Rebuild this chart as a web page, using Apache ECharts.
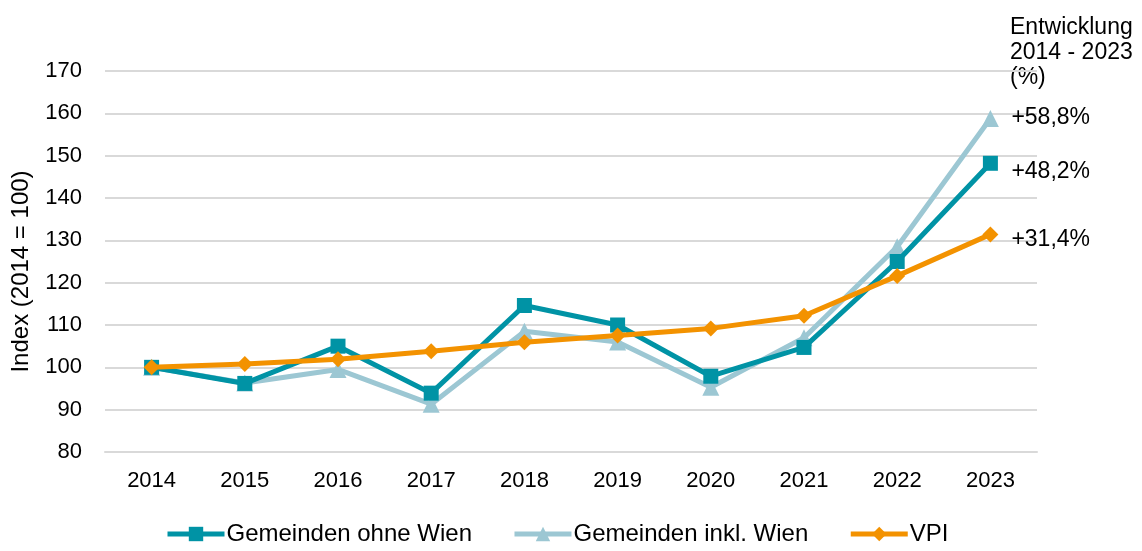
<!DOCTYPE html>
<html>
<head>
<meta charset="utf-8">
<script src="https://cdn.jsdelivr.net/npm/echarts@6/dist/echarts.min.js"></script>
<style>
  html, body { margin: 0; padding: 0; background: #fff; }
  #chart { width: 1142px; height: 551px; }
</style>
</head>
<body>
<div id="chart"></div>
<script>
var years = ['2014', '2015', '2016', '2017', '2018', '2019', '2020', '2021', '2022', '2023']
var ohneWien = [100, 96.2, 105, 93.9, 114.6, 110, 97.9, 104.7, 125, 148.2]
var inklWien = [100, 96.3, 99.5, 91.3, 108.5, 106, 95.3, 107, 128.5, 158.8]
var vpi = [100, 100.8, 101.9, 103.8, 105.9, 107.5, 109.2, 112.2, 121.6, 131.4]

var fontFam = '"Liberation Sans", Arial, sans-serif'

// Beschriftung am Linienende: Veränderung ggü. 2014
function endLbl (offsetY) {
  return {
    show: true,
    distance: 21,
    offset: [0, offsetY],
    fontSize: 23,
    color: '#000',
    fontFamily: fontFam,
    formatter: function (p) {
      var d = p.value - 100
      return (d >= 0 ? '+' : '') + d.toFixed(1).replace('.', ',') + '%'
    }
  }
}

var chart = echarts.init(document.getElementById('chart'))
chart.setOption({
  animation: false,
  textStyle: { fontFamily: fontFam },
  grid: { left: 105, right: 105, top: 71, bottom: 99 },
  graphic: [{
    type: 'text',
    left: 1010,
    top: 15,
    style: {
      text: 'Entwicklung\n2014 - 2023\n(%)',
      fontSize: 23,
      lineHeight: 25,
      fill: '#000',
      fontFamily: fontFam
    }
  }],
  legend: {
    bottom: 0,
    left: 160,
    itemWidth: 57,
    itemHeight: 18,
    itemGap: 40,
    lineStyle: { width: 5 },
    textStyle: { fontSize: 24, color: '#000', fontFamily: fontFam, padding: [0, 0, 0, -3] },
    data: ['Gemeinden ohne Wien', 'Gemeinden inkl. Wien', 'VPI']
  },
  xAxis: {
    type: 'category',
    data: years,
    axisLine: { lineStyle: { color: '#d9d9d9', width: 2 } },
    axisTick: { show: false },
    axisLabel: { fontSize: 22, color: '#000', margin: 18 }
  },
  yAxis: {
    type: 'value',
    min: 80,
    max: 170,
    interval: 10,
    name: 'Index (2014 = 100)',
    nameLocation: 'middle',
    nameGap: 72,
    nameTextStyle: { fontSize: 24, color: '#000', padding: [0, 20, 0, 0] },
    axisLine: { show: false },
    axisTick: { show: false },
    axisLabel: { fontSize: 22, color: '#000', margin: 23 },
    splitLine: { lineStyle: { color: '#d9d9d9', width: 2 } }
  },
  series: [{
    name: 'Gemeinden ohne Wien',
    type: 'line',
    data: ohneWien,
    z: 3,
    color: '#0093a5',
    symbol: 'rect',
    symbolSize: 15,
    lineStyle: { width: 5 },
    endLabel: endLbl(8)
  }, {
    name: 'Gemeinden inkl. Wien',
    type: 'line',
    data: inklWien,
    z: 2,
    color: '#9cc7d3',
    symbol: 'triangle',
    symbolSize: 17,
    lineStyle: { width: 5 },
    endLabel: endLbl(-1)
  }, {
    name: 'VPI',
    type: 'line',
    data: vpi,
    z: 4,
    color: '#f39200',
    symbol: 'diamond',
    symbolSize: 16,
    lineStyle: { width: 5 },
    endLabel: endLbl(5)
  }]
})
</script>
</body>
</html>
